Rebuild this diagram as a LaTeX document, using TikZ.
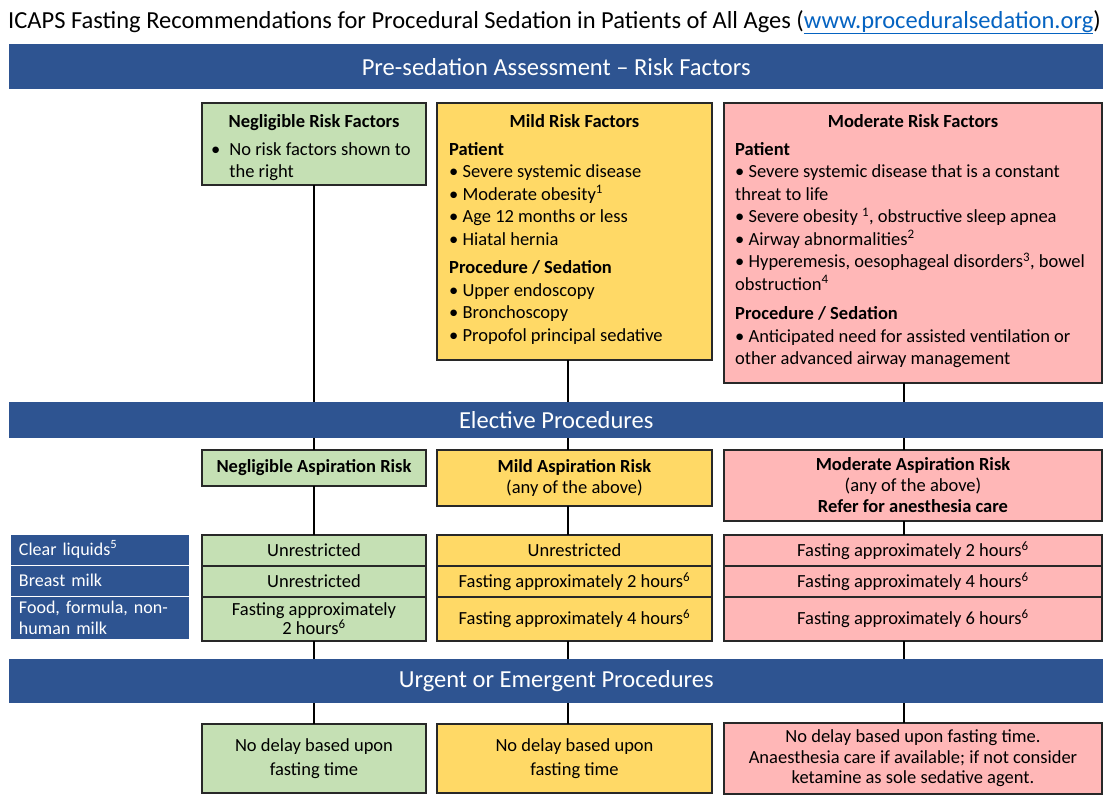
\documentclass[tikz,border=0pt]{standalone}
\usepackage{fontspec}
\setmainfont{Carlito}
\usepackage{tikz}
\usetikzlibrary{positioning}
\definecolor{icapsblue}{RGB}{46,84,145}
\definecolor{negfill}{RGB}{197,224,180}
\definecolor{mildfill}{RGB}{255,217,102}
\definecolor{modfill}{RGB}{255,183,183}
\definecolor{boxline}{RGB}{40,40,40}
\definecolor{linkblue}{RGB}{5,99,193}
\newcommand{\bodyfont}{\fontsize{18.5}{22.5}\selectfont}
\tikzstyle{banner} = [rectangle, fill=icapsblue, text=white, minimum width=1094pt, anchor=north west, inner sep=0pt, font=\fontsize{24.5}{28}\selectfont]
\tikzstyle{riskbox} = [rectangle, draw=boxline, line width=1.3pt, anchor=north west, inner sep=0pt, outer sep=0pt]
\tikzstyle{cell} = [riskbox, align=center, font=\bodyfont]
\tikzstyle{boxhead} = [inner sep=0pt, anchor=base, font=\bodyfont\bfseries]
\tikzstyle{boxtext} = [inner sep=0pt, anchor=north west, align=left, font=\bodyfont]
\tikzstyle{rowlabel} = [rectangle, fill=icapsblue, draw=white, line width=1pt, text=white, anchor=north west, inner xsep=9pt, inner ysep=0pt, outer sep=0pt, text width=161pt, align=left, font=\fontsize{18}{21}\selectfont]
\tikzstyle{link} = [line width=1.6pt, color=black]

\begin{document}
\begin{tikzpicture}[x=1pt, y=-1pt]
\useasboundingbox (0,0) rectangle (1108,796);

\node[anchor=base west, inner sep=0pt, font=\fontsize{24.5}{28}\selectfont] (title) at (8,28)
  {ICAPS Fasting Recommendations for Procedural Sedation in Patients of All Ages ({\color{linkblue}\underline{www.proceduralsedation.org}})};

\node[banner, minimum height=45pt] (assess) at (9,44) {Pre-sedation Assessment -- Risk Factors};

\node[riskbox, fill=negfill, minimum width=224pt, minimum height=82pt] (neg) at (202,103) {};
\node[riskbox, fill=mildfill, minimum width=275pt, minimum height=257pt] (mild) at (437,103) {};
\node[riskbox, fill=modfill, minimum width=378pt, minimum height=280pt] (mod) at (724,103) {};

\node[boxhead] (neghead) at ([yshift=-24pt]neg.north) {Negligible Risk Factors};
\node[boxhead] (mildhead) at ([yshift=-24pt]mild.north) {Mild Risk Factors};
\node[boxhead] (modhead) at ([yshift=-24pt]mod.north) {Moderate Risk Factors};

\node[boxtext] (negtext) at ([xshift=9pt,yshift=-39pt]neg.north west)
  {\textbullet\hspace{9pt}No risk factors shown to\\\hphantom{\textbullet\hspace{9pt}}the right};
\node[boxtext] (mildtext) at ([xshift=12pt,yshift=-39pt]mild.north west)
  {\textbf{Patient}\\
   \textbullet\ Severe systemic disease\\
   \textbullet\ Moderate obesity\textsuperscript{1}\\
   \textbullet\ Age 12 months or less\\
   \textbullet\ Hiatal hernia\\[6pt]
   \textbf{Procedure / Sedation}\\
   \textbullet\ Upper endoscopy\\
   \textbullet\ Bronchoscopy\\
   \textbullet\ Propofol principal sedative};
\node[boxtext] (modtext) at ([xshift=11pt,yshift=-39pt]mod.north west)
  {\textbf{Patient}\\
   \textbullet\ Severe systemic disease that is a constant\\
   threat to life\\
   \textbullet\ Severe obesity \textsuperscript{1}, obstructive sleep apnea\\
   \textbullet\ Airway abnormalities\textsuperscript{2}\\
   \textbullet\ Hyperemesis, oesophageal disorders\textsuperscript{3}, bowel\\
   obstruction\textsuperscript{4}\\[7pt]
   \textbf{Procedure / Sedation}\\
   \textbullet\ Anticipated need for assisted ventilation or\\
   other advanced airway management};

\node[banner, minimum height=36pt] (elect) at (9,402) {Elective Procedures};

\node[cell, fill=negfill, minimum width=224pt, minimum height=36pt] (negasp) at (202,450) {\textbf{Negligible Aspiration Risk}};
\node[cell, fill=mildfill, minimum width=275pt, minimum height=56pt] (mildasp) at (437,450)
  {\textbf{Mild Aspiration Risk}\\[-1.5pt](any of the above)};
\node[cell, fill=modfill, minimum width=378pt, minimum height=71pt] (modasp) at (724,450)
  {\textbf{Moderate Aspiration Risk}\\[-1.5pt](any of the above)\\[-1.5pt]\textbf{Refer for anesthesia care}};

\node[rowlabel, minimum height=31pt] (clear) at (10,534) {Clear liquids\textsuperscript{5}};
\node[rowlabel, minimum height=31pt, below=0pt of clear] (breast) {Breast milk};
\node[rowlabel, minimum height=43pt, below=0pt of breast] (food) {Food, formula, non-\\human milk};

\node[cell, fill=negfill, minimum width=224pt, minimum height=31pt] (negclear) at (202,535) {Unrestricted};
\node[cell, fill=negfill, minimum width=224pt, minimum height=31pt, below=0pt of negclear] (negbreast) {Unrestricted};
\node[cell, fill=negfill, minimum width=224pt, minimum height=44pt, below=0pt of negbreast] (negfood)
  {Fasting approximately\\[-3.5pt]2 hours\textsuperscript{6}};

\node[cell, fill=mildfill, minimum width=275pt, minimum height=31pt] (mildclear) at (437,535) {Unrestricted};
\node[cell, fill=mildfill, minimum width=275pt, minimum height=31pt, below=0pt of mildclear] (mildbreast) {Fasting approximately 2 hours\textsuperscript{6}};
\node[cell, fill=mildfill, minimum width=275pt, minimum height=44pt, below=0pt of mildbreast] (mildfood) {Fasting approximately 4 hours\textsuperscript{6}};

\node[cell, fill=modfill, minimum width=378pt, minimum height=31pt] (modclear) at (724,535) {Fasting approximately 2 hours\textsuperscript{6}};
\node[cell, fill=modfill, minimum width=378pt, minimum height=31pt, below=0pt of modclear] (modbreast) {Fasting approximately 4 hours\textsuperscript{6}};
\node[cell, fill=modfill, minimum width=378pt, minimum height=44pt, below=0pt of modbreast] (modfood) {Fasting approximately 6 hours\textsuperscript{6}};

\node[banner, minimum height=44pt] (urgent) at (9,659) {Urgent or Emergent Procedures};

\node[cell, fill=negfill, minimum width=224pt, minimum height=69pt] (negnow) at (202,724)
  {No delay based upon\\[1.5pt]fasting time};
\node[cell, fill=mildfill, minimum width=275pt, minimum height=69pt] (mildnow) at (437,724)
  {No delay based upon\\[1.5pt]fasting time};
\node[cell, fill=modfill, minimum width=378pt, minimum height=71pt] (modnow) at (724,723)
  {No delay based upon fasting time.\\[-2pt]Anaesthesia care if available; if not consider\\[-2pt]ketamine as sole sedative agent.};

\coordinate (colA) at (314,0);
\coordinate (colB) at (568,0);
\coordinate (colC) at (904,0);
\foreach \c/\top/\asp/\tab/\now in {colA/neg/negasp/negclear/negnow, colB/mild/mildasp/mildclear/mildnow, colC/mod/modasp/modclear/modnow} {
  \draw[link] (\c |- \top.south) -- (\c |- elect.north);
  \draw[link] (\c |- elect.south) -- (\c |- \asp.north);
  \draw[link] (\c |- \asp.south) -- (\c |- \tab.north);
  \draw[link] (\c |- urgent.south) -- (\c |- \now.north);
}
\draw[link] (colA |- negfood.south) -- (colA |- urgent.north);
\draw[link] (colB |- mildfood.south) -- (colB |- urgent.north);
\draw[link] (colC |- modfood.south) -- (colC |- urgent.north);
\end{tikzpicture}
\end{document}
